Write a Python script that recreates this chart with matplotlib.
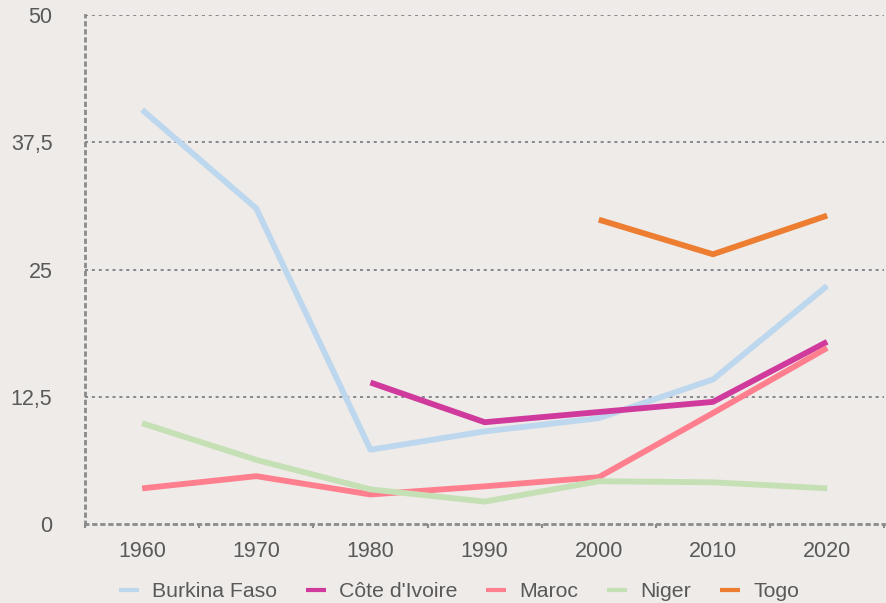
import numpy as np
import matplotlib
matplotlib.use("Agg")
import matplotlib.pyplot as plt

years = ["1960", "1970", "1980", "1990", "2000", "2010", "2020"]
burkina = [40.7, 31.0, 7.3, 9.1, 10.4, 14.2, 23.4]
cote = [np.nan, np.nan, 13.9, 10.0, 11.0, 12.0, 17.9]
maroc = [3.5, 4.7, 2.9, 3.7, 4.6, 10.9, 17.3]
niger = [9.9, 6.3, 3.4, 2.2, 4.2, 4.1, 3.5]
togo = [np.nan, np.nan, np.nan, np.nan, 29.9, 26.5, 30.3]

series = [
    ("Burkina Faso", burkina, "#bdd7ee"),
    ("Côte d'Ivoire", cote, "#cf3a9c"),
    ("Maroc", maroc, "#ff7f8f"),
    ("Niger", niger, "#c5e0b4"),
    ("Togo", togo, "#ed7d31"),
]

bg = "#eeebe8"
txt = "#595959"
plt.rcParams["font.family"] = ["Liberation Sans", "DejaVu Sans"]

fig = plt.figure(figsize=(8.86, 6.03), dpi=100, facecolor=bg)
ax = fig.add_axes([0.096, 0.131, 0.902, 0.844], facecolor=bg)

x = np.arange(len(years))
for name, vals, col in series:
    ax.plot(x, vals, color=col, lw=4.2, label=name, solid_capstyle="butt")

ax.set_xlim(-0.5, len(years) - 0.5)
ax.set_ylim(0, 50)
ax.set_yticks([0, 12.5, 25, 37.5, 50])
ax.set_yticklabels(["0", "12,5", "25", "37,5", "50"])
ax.set_xticks(x)
ax.set_xticklabels(years)
ax.set_xticks(np.arange(-0.5, len(years)), minor=True)

for yv in [12.5, 25, 37.5, 50]:
    ax.axhline(yv, color="#6b6f78", lw=1.1, ls=(0, (2, 2.5)), zorder=0)

for s in ["top", "right"]:
    ax.spines[s].set_visible(False)
for s in ["left", "bottom"]:
    ax.spines[s].set_color("#8a8a8a")
    ax.spines[s].set_linewidth(2)
    ax.spines[s].set_linestyle((0, (0.9, 2.0)))

ax.tick_params(axis="both", which="major", length=0, labelsize=15.5, labelcolor=txt)
ax.tick_params(axis="x", which="major", pad=12)
ax.tick_params(axis="y", which="major", pad=23.5)
ax.tick_params(axis="x", which="minor", length=3, width=1.5, color="#8a8a8a", direction="out")

leg = fig.legend(loc="center", bbox_to_anchor=(0.518, 0.0185), ncol=5, frameon=False,
                 fontsize=15.3, handlelength=0.95, handletextpad=0.62, columnspacing=1.35)
for t in leg.get_texts():
    t.set_color(txt)
for h in leg.get_lines():
    h.set_linewidth(3)

fig.savefig("out.png", dpi=100, facecolor=bg)
